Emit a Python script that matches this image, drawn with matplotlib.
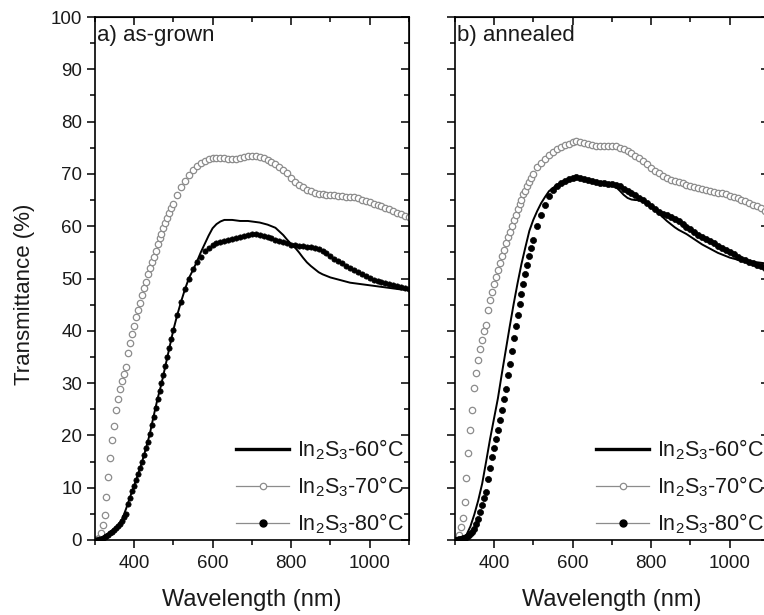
import matplotlib
matplotlib.use("Agg")
import matplotlib.pyplot as plt
from matplotlib.lines import Line2D
from matplotlib.ticker import MultipleLocator

plt.rcParams['font.family'] = ['Liberation Sans', 'DejaVu Sans']
plt.rcParams['mathtext.fontset'] = 'custom'
plt.rcParams['mathtext.rm'] = 'Liberation Sans'
plt.rcParams['mathtext.it'] = 'Liberation Sans'

# ---------------- data ----------------
# wavelength grids (nm)
wl_dense = [300, 305, 310, 315, 320, 325, 330, 335, 340, 345, 350, 355, 360, 365, 370,
            375, 380, 385, 390, 395, 400, 405, 410, 415, 420, 425, 430, 435, 440, 445,
            450, 455, 460, 465, 470, 475, 480, 485, 490, 495, 500,
            510, 520, 530, 540, 550, 560, 570, 580, 590, 600, 610, 620, 630, 640, 650,
            660, 670, 680, 690, 700, 710, 720, 730, 740, 750, 760, 770, 780, 790, 800,
            810, 820, 830, 840, 850, 860, 870, 880, 890, 900, 910, 920, 930, 940, 950,
            960, 970, 980, 990, 1000, 1010, 1020, 1030, 1040, 1050, 1060, 1070, 1080,
            1090, 1100]
wl_line = [300, 310, 320, 330, 340, 350, 360, 370, 380, 390, 400, 410, 420, 430, 440,
           450, 460, 470, 480, 490, 500, 510, 520, 530, 540, 550, 560, 570, 580, 590,
           600, 610, 620, 630, 640, 650, 660, 670, 680, 690, 700, 710, 720, 730, 740,
           750, 760, 770, 780, 790, 800, 810, 820, 830, 840, 850, 860, 870, 880, 890,
           900, 910, 920, 930, 940, 950, 960, 970, 980, 990, 1000, 1010, 1020, 1030,
           1040, 1050, 1060, 1070, 1080, 1090, 1100]

# a) as-grown
a_60 = [0.0, 0.1, 0.4, 1.0, 1.6, 2.2, 2.9, 4.0, 6.0, 8.2, 10.3, 12.5, 14.8, 17.4, 20.2,
        23.7, 27.0, 29.9, 33.3, 36.7, 40.1, 43.0, 45.6, 48.0, 50.1, 51.6, 53.2, 55.0, 56.6,
        58.2, 59.6, 60.4, 60.9, 61.2, 61.2, 61.2, 61.1, 61.0, 61.0, 61.0, 60.9, 60.8, 60.7,
        60.5, 60.3, 60.0, 59.7, 59.0, 58.3, 57.4, 56.6, 55.9, 55.0, 54.0, 53.1, 52.4, 51.8,
        51.2, 50.8, 50.5, 50.2, 50.0, 49.8, 49.6, 49.4, 49.2, 49.1, 49.0, 48.9, 48.8, 48.7,
        48.6, 48.5, 48.4, 48.3, 48.2, 48.1, 48.0, 47.9, 47.85, 47.8]
a_70 = [0.0, 0.1, 0.4, 1.3, 2.8, 4.8, 8.2, 12.0, 15.6, 19.2, 21.8, 24.8, 27.0, 28.8, 30.4,
        31.7, 33.0, 35.8, 37.6, 39.3, 40.9, 42.6, 44.0, 45.4, 46.9, 48.1, 49.4, 50.8, 52.0,
        53.1, 54.1, 55.3, 56.6, 57.7, 58.6, 59.6, 60.6, 61.5, 62.5, 63.4, 64.3,
        66.0, 67.4, 68.7, 69.8, 70.7, 71.5, 72.1, 72.5, 72.8, 73.0, 73.1, 73.1, 73.0, 72.9,
        72.8, 72.9, 73.1, 73.3, 73.5, 73.5, 73.4, 73.3, 73.0, 72.6, 72.3, 71.8, 71.3, 70.8,
        70.2, 69.2, 68.4, 67.8, 67.4, 67.0, 66.7, 66.4, 66.2, 66.1, 66.0, 66.0, 65.9, 65.8,
        65.7, 65.6, 65.6, 65.5, 65.3, 65.1, 64.9, 64.6, 64.3, 64.0, 63.8, 63.5, 63.2, 62.9,
        62.6, 62.3, 62.0, 61.7]
a_80 = [0.0, 0.0, 0.1, 0.2, 0.3, 0.5, 0.8, 1.0, 1.3, 1.6, 1.9, 2.3, 2.7, 3.1, 3.7, 4.4,
        5.0, 6.8, 8.1, 9.3, 10.4, 11.5, 12.6, 13.8, 15.0, 16.2, 17.5, 18.8, 20.3, 21.9, 23.6,
        25.3, 27.0, 28.5, 30.0, 31.6, 33.3, 35.0, 36.7, 38.4, 40.1,
        43.0, 45.6, 48.0, 50.0, 51.8, 53.1, 54.2, 55.3, 55.9, 56.4, 56.7, 57.0, 57.2, 57.4,
        57.6, 57.8, 58.0, 58.2, 58.4, 58.5, 58.5, 58.4, 58.2, 58.0, 57.7, 57.4, 57.1, 56.9,
        56.7, 56.5, 56.4, 56.3, 56.2, 56.1, 56.0, 55.9, 55.6, 55.2, 54.8, 54.3, 53.8, 53.3,
        52.9, 52.4, 52.0, 51.6, 51.2, 50.8, 50.4, 50.1, 49.8, 49.6, 49.3, 49.1, 48.9, 48.7,
        48.5, 48.3, 48.1, 47.9]

# b) annealed
b_60 = [0.0, 0.1, 0.3, 1.0, 2.6, 4.9, 7.6, 10.8, 15.0, 19.3, 23.2, 27.1, 31.8, 36.3, 40.8,
        45.1, 49.1, 52.8, 56.0, 59.1, 61.2, 62.9, 64.4, 65.6, 66.7, 67.3, 67.9, 68.3, 68.7,
        69.0, 69.2, 69.3, 69.3, 69.0, 68.7, 68.5, 68.3, 68.2, 68.1, 68.0, 67.8, 67.5, 66.8,
        66.0, 65.4, 65.1, 65.0, 65.0, 64.8, 64.3, 63.8, 63.2, 62.5, 61.7, 61.0, 60.4, 59.8,
        59.3, 58.9, 58.5, 58.0, 57.5, 57.0, 56.5, 56.1, 55.7, 55.3, 54.9, 54.6, 54.3, 54.0,
        53.8, 53.6, 53.5, 53.4, 53.3, 53.2, 53.1, 53.0, 52.9, 52.8]
b_70 = [0.0, 0.2, 1.0, 2.5, 4.3, 7.3, 11.8, 16.6, 21.0, 24.8, 29.0, 31.9, 34.4, 36.6, 38.3,
        39.9, 41.2, 43.9, 45.8, 47.5, 49.0, 50.3, 51.6, 52.9, 54.3, 55.5, 56.7, 57.9, 58.9,
        60.0, 61.2, 62.1, 63.2, 64.2, 65.1, 66.1, 66.8, 67.7, 68.5, 69.3, 70.0,
        71.4, 72.1, 72.9, 73.6, 74.2, 74.7, 75.1, 75.5, 75.8, 76.1, 76.2, 76.1, 75.9, 75.7,
        75.5, 75.4, 75.4, 75.4, 75.4, 75.4, 75.3, 75.0, 74.7, 74.4, 74.0, 73.5, 73.0, 72.4,
        71.8, 71.2, 70.6, 70.1, 69.6, 69.2, 68.9, 68.6, 68.4, 68.2, 67.9, 67.7, 67.5, 67.3,
        67.1, 66.9, 66.8, 66.6, 66.4, 66.3, 66.1, 65.8, 65.6, 65.4, 65.1, 64.8, 64.4, 64.1,
        63.8, 63.4, 63.0, 62.6]
b_80 = [0.0, 0.0, 0.1, 0.2, 0.3, 0.4, 0.6, 0.8, 1.1, 1.5, 2.1, 3.0, 4.0, 5.3, 6.7, 8.0,
        9.2, 11.7, 13.7, 15.8, 17.5, 19.3, 21.1, 23.0, 24.9, 27.0, 28.9, 31.5, 33.7, 36.1,
        38.6, 41.0, 43.1, 45.2, 47.0, 49.0, 50.8, 52.6, 54.3, 55.9, 57.3,
        60.0, 62.2, 64.1, 65.7, 66.9, 67.7, 68.3, 68.7, 69.1, 69.3, 69.4, 69.3, 69.1, 68.8,
        68.6, 68.4, 68.3, 68.2, 68.1, 68.1, 67.9, 67.6, 67.2, 66.8, 66.3, 65.9, 65.4, 65.0,
        64.5, 63.9, 63.3, 62.8, 62.4, 62.1, 61.8, 61.4, 60.9, 60.4, 59.9, 59.4, 58.9, 58.4,
        58.0, 57.5, 57.1, 56.7, 56.3, 55.9, 55.5, 55.1, 54.7, 54.2, 53.8, 53.5, 53.2, 52.9,
        52.6, 52.3, 52.1, 51.8]

labels = [r'In$_2$S$_3$-60°C', r'In$_2$S$_3$-70°C', r'In$_2$S$_3$-80°C']
panel_titles = ['a) as-grown', 'b) annealed']
x_ticks = [400, 600, 800, 1000]
y_ticks = [0, 10, 20, 30, 40, 50, 60, 70, 80, 90, 100]

panels = [(a_60, a_70, a_80), (b_60, b_70, b_80)]

# ---------------- figure ----------------
W, H = 764, 615
fig = plt.figure(figsize=(W / 100, H / 100), dpi=100)

def frac(x0, y0, x1, y1):
    return [x0 / W, 1 - y1 / H, (x1 - x0) / W, (y1 - y0) / H]

positions = [frac(94.7, 17, 409.0, 540), frac(454.7, 17, 769.0, 540)]
TXT = '#1a1a1a'
GRAY = '#8c8c8c'

for i, (pos, (s60, s70, s80)) in enumerate(zip(positions, panels)):
    ax = fig.add_axes(pos)
    ax.plot(wl_dense, s70, linestyle='none', marker='o', markersize=4.6,
            markerfacecolor='white', markeredgecolor=GRAY, markeredgewidth=0.9, zorder=2)
    ms80 = 3.8 if i == 0 else 4.4
    ax.plot(wl_dense, s80, linestyle='none', marker='o', markersize=ms80,
            markerfacecolor='black', markeredgecolor='black', markeredgewidth=0.5, zorder=3)
    ax.plot(wl_line, s60, color='black', linewidth=1.4, zorder=4)

    ax.set_xlim(300, 1100)
    ax.set_ylim(0, 100)
    ax.set_xticks(x_ticks)
    ax.set_yticks(y_ticks)
    ax.xaxis.set_minor_locator(MultipleLocator(100))
    ax.yaxis.set_minor_locator(MultipleLocator(5))
    ax.tick_params(which='both', direction='out', width=1.1, colors='black',
                   labelcolor=TXT, labelsize=13.5, top=False, right=False)
    ax.tick_params(which='major', length=6)
    ax.tick_params(which='minor', length=3.5)
    ax.tick_params(axis='x', pad=5)
    ax.tick_params(axis='y', pad=3)
    for sp in ax.spines.values():
        sp.set_linewidth(1.2)

    # top / right ticks pointing inward
    secx = ax.secondary_xaxis('top')
    secx.set_xticks(x_ticks)
    secx.xaxis.set_minor_locator(MultipleLocator(100))
    secx.tick_params(which='both', direction='in', width=1.1, labeltop=False)
    secx.tick_params(which='major', length=6)
    secx.tick_params(which='minor', length=3.5)
    secy = ax.secondary_yaxis('right')
    secy.set_yticks(y_ticks)
    secy.yaxis.set_minor_locator(MultipleLocator(5))
    secy.tick_params(which='both', direction='in', width=1.1, labelright=False)
    secy.tick_params(which='major', length=6)
    secy.tick_params(which='minor', length=3.5)

    if i == 1:
        ax.tick_params(axis='y', labelleft=False)
    else:
        ax.set_ylabel('Transmittance (%)', fontsize=16, color=TXT, labelpad=9)
        ax.yaxis.set_label_coords(-0.19, 0.47)
    ax.set_xlabel('Wavelength (nm)', fontsize=17, color=TXT, labelpad=12)

    ax.text(0.008, 0.965, panel_titles[i], transform=ax.transAxes, fontsize=16,
            color=TXT, ha='left', va='center')

    handles = [
        Line2D([], [], color='black', linewidth=2.4),
        Line2D([], [], color=GRAY, linewidth=0.9, marker='o', markersize=4.6,
               markerfacecolor='white', markeredgecolor=GRAY, markeredgewidth=0.9),
        Line2D([], [], color=GRAY, linewidth=0.9, marker='o', markersize=5,
               markerfacecolor='black', markeredgecolor='black'),
    ]
    ax.legend(handles, labels, loc='lower right', bbox_to_anchor=(1.025, -0.017),
              frameon=False, fontsize=15.5, handlelength=2.5, handletextpad=0.35,
              labelspacing=0.58, borderaxespad=0.2, labelcolor=TXT)

fig.savefig('out.png', dpi=100)
